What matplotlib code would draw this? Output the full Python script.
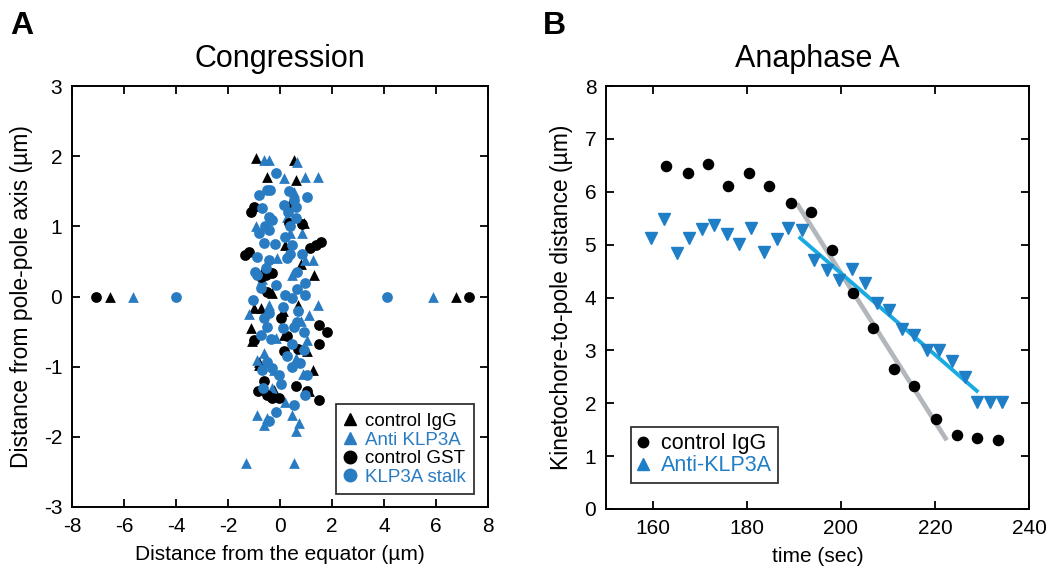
import matplotlib
matplotlib.use("Agg")
import matplotlib.pyplot as plt
from matplotlib.lines import Line2D

plt.rcParams['font.family'] = ['Liberation Sans', 'DejaVu Sans']
plt.rcParams['axes.unicode_minus'] = False

# ---------------- Panel A data (Congression) ----------------
igg_x = [-0.92, 0.53, -0.49, 0.63, 0.94, 0.21, 0.79, 1.30, -1.00, -0.75, 0.70, -1.07, -0.82,
         0.15, 1.05, -0.82, -0.24, 1.11, -1.13, 0.35, -0.30, 1.25, -0.60, 0.10, -6.54, 6.75]
igg_y = [1.97, 1.95, 1.71, 1.66, 1.05, 0.74, 0.47, 0.31, -0.17, -0.17, -0.12, -0.64, -0.93,
         -0.55, -0.78, -0.97, -1.33, -1.35, -0.45, 1.30, 0.05, -1.05, 0.40, -0.20, 0.0, 0.0]

anti_x = [-0.62, -0.43, 0.66, 0.15, 0.98, 1.47, 0.53, 0.28, 0.40, 0.85, -0.94, 0.98, 1.26, 1.47,
          1.11, -0.43, -0.17, 1.05, -0.62, 0.60, -0.88, -0.49, -0.62, 0.47, 0.72, 0.63, -0.30,
          -1.29, 0.52, -1.20, -0.10, 0.90, -0.90, 0.20, -0.70, 0.45, -0.25, 0.80, -5.64, 5.89]
anti_y = [1.95, 1.95, 1.92, 1.69, 1.71, 1.71, 1.49, 1.14, 0.90, 0.90, 1.00, 0.52, 0.52, -0.12,
          -0.26, -0.12, -0.59, -0.62, -0.81, -0.88, -1.69, -1.73, -1.83, -1.69, -1.80, -1.92, -1.31,
          -2.38, -2.38, -0.25, 0.55, -1.10, -0.90, -1.50, 0.25, 0.30, -1.05, -0.35, 0.0, 0.0]

gst_x = [-1.00, -1.10, 0.85, 1.56, 1.37, 1.17, -1.20, -0.75, -0.30, -0.49, 0.02, 1.49, 1.82,
         1.49, 0.28, -1.00, 0.15, -0.62, -0.49, -0.05, 0.60, 1.05, 1.49, -0.30, -1.36, 0.35,
         -0.55, 0.70, -0.85, -7.06, 7.26]
gst_y = [1.28, 1.20, 1.04, 0.78, 0.74, 0.69, 0.64, 0.28, 0.33, 0.07, -0.31, -0.40, -0.51,
         -0.67, -0.57, -0.62, -0.78, -1.21, -1.40, -1.45, -1.28, -1.35, -1.47, -1.44, 0.59, 1.05,
         0.30, -0.75, -1.35, 0.0, 0.0]

stalk_x = [-0.17, -0.37, -0.50, 1.05, 0.53, 0.60, -0.68, -0.43, -0.30, -0.56, 0.60, -0.82,
           -0.43, -0.62, 0.47, 0.40, -0.88, -0.43, 0.28, 0.66, 0.98, -0.75, -0.17, 0.21, 0.47,
           0.98, -0.43, -0.62, 0.66, 0.53, 0.92, -0.49, -0.75, 0.47, 0.92, -0.49, -0.68, -0.05,
           0.47, 1.05, 0.02, 0.98, -0.43, -0.30, 0.35, 0.30, 0.20, -0.90, 0.70, 0.10,
           -0.95, -0.20, 0.15, 0.25, -0.35, 0.75, -0.65, 0.55, -1.05, 0.85, -0.15, 0.10,
           -0.80, 0.40, -0.55, 0.65, -4.00, 4.12]
stalk_y = [1.76, 1.52, 1.52, 1.42, 1.38, 1.28, 1.26, 1.14, 1.09, 1.00, 1.12, 0.90, 0.95, 0.76,
           0.74, 0.60, 0.57, 0.52, 0.55, 0.35, 0.19, 0.12, 0.17, 0.02, -0.02, 0.02, -0.24, -0.31,
           -0.36, -0.43, -0.50, -0.43, -0.55, -0.67, -0.76, -0.93, -1.05, -1.12, -1.00, -1.12,
           -1.24, -1.40, -1.78, -1.02, 1.50, 1.20, 0.85, 0.30, -0.20, -0.45,
           0.35, 0.75, 1.30, -0.85, -0.60, -0.95, -1.30, -1.55, -0.05, 0.60, -1.65, -0.15,
           1.45, 1.00, 0.40, 0.10, 0.0, 0.0]

# ---------------- Panel B data (Anaphase A) ----------------
ctrl_t = [162.8, 167.4, 171.6, 176.0, 180.5, 184.7, 189.3, 193.6, 198.0, 202.6, 206.9,
          211.3, 215.5, 220.2, 224.6, 228.9, 233.3]
ctrl_d = [6.48, 6.36, 6.52, 6.11, 6.35, 6.11, 5.78, 5.61, 4.90, 4.08, 3.43, 2.65, 2.33,
          1.70, 1.40, 1.35, 1.30]

klp_t = [159.6, 162.3, 165.0, 167.7, 170.4, 173.0, 175.7, 178.3, 180.9, 183.6, 186.3, 188.8,
         191.6, 194.3, 197.0, 199.6, 202.3, 205.0, 207.6, 210.3, 212.9, 215.5, 218.2, 220.9,
         223.6, 226.3, 229.0, 231.7, 234.3]
klp_d = [5.12, 5.48, 4.85, 5.12, 5.29, 5.37, 5.21, 5.01, 5.32, 4.86, 5.10, 5.32, 5.27, 4.71,
         4.52, 4.34, 4.53, 4.28, 3.89, 3.76, 3.40, 3.29, 3.01, 3.01, 2.80, 2.50, 2.03, 2.03, 2.03]

ctrl_fit_t = [190.6, 222.5]
ctrl_fit_d = [5.78, 1.30]
klp_fit_t = [191.0, 229.2]
klp_fit_d = [5.15, 2.21]

BLUE = '#2a7cc2'
BLUE_B = '#1f7fc6'
FIT_GRAY = '#b3b7bb'
FIT_BLUE = '#1aaae2'

fig = plt.figure(figsize=(10.57, 5.72), dpi=100)

# ---------------- Panel A ----------------
axA = fig.add_axes([72/1057, 65/572, 416/1057, 421/572])
ms = 60
axA.scatter(igg_x, igg_y, marker='^', s=ms, color='black', linewidths=0, zorder=3)
axA.scatter(anti_x, anti_y, marker='^', s=ms, color=BLUE, linewidths=0, zorder=3)
axA.scatter(gst_x, gst_y, marker='o', s=ms, color='black', linewidths=0, zorder=3)
axA.scatter(stalk_x, stalk_y, marker='o', s=ms, color=BLUE, linewidths=0, zorder=3)
axA.set_xlim(-8, 8)
axA.set_ylim(-3, 3)
axA.set_xticks(range(-8, 9, 2))
axA.set_yticks(range(-3, 4, 1))
axA.set_xlabel('Distance from the equator (µm)', fontsize=15, labelpad=7)
axA.set_ylabel('Distance from pole-pole axis (µm)', fontsize=16.5, labelpad=8)
axA.set_title('Congression', fontsize=22, pad=14)

handlesA = [
    Line2D([], [], marker='^', color='black', ls='none', markersize=9),
    Line2D([], [], marker='^', color=BLUE, ls='none', markersize=9),
    Line2D([], [], marker='o', color='black', ls='none', markersize=9),
    Line2D([], [], marker='o', color=BLUE, ls='none', markersize=9),
]
labelsA = ['control IgG', 'Anti KLP3A', 'control GST', 'KLP3A stalk']
legA = axA.legend(handlesA, labelsA, loc='lower right', bbox_to_anchor=(0.966, 0.03),
                  fontsize=13.5, frameon=True, fancybox=False, handlelength=0.6,
                  handletextpad=0.45, labelspacing=0.08, borderpad=0.45, borderaxespad=0)
legA.get_frame().set_edgecolor('black')
legA.get_frame().set_linewidth(1.3)
for t, c in zip(legA.get_texts(), ['black', BLUE, 'black', BLUE]):
    t.set_color(c)

# ---------------- Panel B ----------------
axB = fig.add_axes([606/1057, 63/572, 423/1057, 423/572])
axB.plot(ctrl_fit_t, ctrl_fit_d, color=FIT_GRAY, lw=3.4, solid_capstyle='butt', zorder=2)
axB.plot(klp_fit_t, klp_fit_d, color=FIT_BLUE, lw=2.8, solid_capstyle='butt', zorder=2)
axB.plot(ctrl_t, ctrl_d, 'o', color='black', markersize=7.3, ls='none', zorder=3)
axB.plot(klp_t, klp_d, 'v', color=BLUE_B, markersize=8, ls='none', zorder=3)
axB.set_xlim(150, 240)
axB.set_ylim(0, 8)
axB.set_xticks([160, 180, 200, 220, 240])
axB.set_yticks(range(0, 9))
axB.set_xlabel('time (sec)', fontsize=15, labelpad=7)
axB.set_ylabel('Kinetochore-to-pole distance (µm)', fontsize=16.5, labelpad=8)
axB.set_title('Anaphase A', fontsize=22, pad=14)

handlesB = [
    Line2D([], [], marker='o', color='black', ls='none', markersize=7.5),
    Line2D([], [], marker='^', color=BLUE_B, ls='none', markersize=9),
]
legB = axB.legend(handlesB, ['control IgG', 'Anti-KLP3A'], loc='lower left',
                  bbox_to_anchor=(0.058, 0.062), fontsize=15.5, frameon=True, fancybox=False,
                  handlelength=0.6, handletextpad=0.5, labelspacing=0.05, borderpad=0.3,
                  borderaxespad=0)
legB.get_frame().set_edgecolor('black')
legB.get_frame().set_linewidth(1.3)
for t, c in zip(legB.get_texts(), ['black', BLUE_B]):
    t.set_color(c)

for ax in (axA, axB):
    for sp in ax.spines.values():
        sp.set_linewidth(1.4)
    ax.tick_params(direction='in', top=True, right=True, length=6, width=1.3,
                   labelsize=15, pad=7)

fig.text(10/1057, 1 - 26/572, 'A', fontsize=23, fontweight='bold', va='center')
fig.text(543/1057, 1 - 26/572, 'B', fontsize=23, fontweight='bold', va='center')

fig.savefig('out.png', dpi=100)
